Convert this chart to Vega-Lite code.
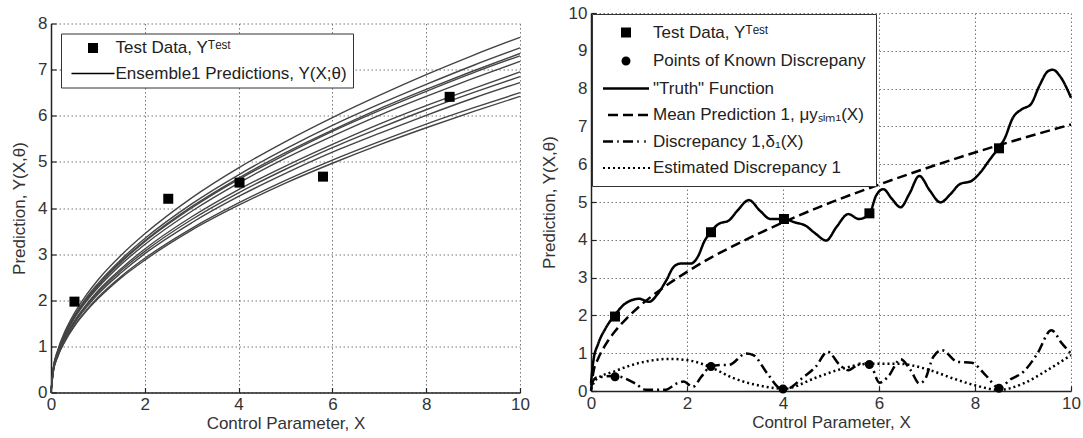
{
  "$schema": "https://vega.github.io/schema/vega-lite/v6.json",
  "padding": {"left": 10, "top": 4, "right": 0, "bottom": 0},
  "spacing": 10,
  "background": "white",
  "config": {
    "font": "Liberation Sans",
    "view": {"stroke": null},
    "axis": {
      "labelFont": "Liberation Sans", "labelFontSize": 17, "labelColor": "#333",
      "titleFont": "Liberation Sans", "titleFontSize": 17, "titleColor": "#333", "titleFontWeight": "normal",
      "domainColor": "#222", "domainWidth": 1.5, "tickColor": "#222", "tickSize": -5, "tickWidth": 1.2,
      "labelPadding": 9, "labelFlush": false, "labelOverlap": false,
      "grid": true, "gridColor": "#777", "gridDash": [1.5, 2.5], "gridWidth": 1
    },
    "legend": {
      "labelFont": "Liberation Sans", "labelFontSize": 17, "labelColor": "#222", "labelLimit": 500,
      "fillColor": "white", "strokeColor": "#333", "orient": "top-left", "title": null,
      "symbolSize": 100
    }
  },
  "resolve": {"scale": {"shape": "independent", "strokeDash": "independent", "x": "independent", "y": "independent"}, "legend": {"shape": "independent", "strokeDash": "independent"}},
  "hconcat": [
    {
      "spacing": 0.5,
      "resolve": {"scale": {"shape": "independent", "x": "independent", "y": "independent"}, "legend": {"shape": "independent"}},
      "vconcat": [
        {
          "width": 469, "height": 1,
          "data": {"values": []},
          "mark": {"type": "rule", "opacity": 0},
          "encoding": {}
        },
        {
          "width": 469, "height": 369,
          "encoding": {
            "x": {"field": "x", "type": "quantitative", "scale": {"domain": [0, 10], "nice": false}, "axis": {"values": [0,2,4,6,8,10], "title": "Control Parameter, X", "titlePadding": 3}},
            "y": {"field": "y", "type": "quantitative", "scale": {"domain": [0, 8], "nice": false}, "axis": {"values": [0,1,2,3,4,5,6,7,8], "title": "Prediction, Y(X,θ)", "titlePadding": 9}}
          },
          "layer": [
            {
              "data": {"values": [
                {"m":1,"x":0,"y":0},{"m":1,"x":0.05,"y":0.54},{"m":1,"x":0.15,"y":0.94},{"m":1,"x":0.3,"y":1.33},{"m":1,"x":0.5,"y":1.72},{"m":1,"x":0.75,"y":2.11},{"m":1,"x":1,"y":2.44},{"m":1,"x":1.5,"y":2.98},{"m":1,"x":2,"y":3.44},{"m":1,"x":3,"y":4.22},{"m":1,"x":4,"y":4.87},{"m":1,"x":5,"y":5.44},{"m":1,"x":6,"y":5.96},{"m":1,"x":7,"y":6.44},{"m":1,"x":8,"y":6.89},{"m":1,"x":9,"y":7.31},{"m":1,"x":10,"y":7.7},
                {"m":2,"x":0,"y":0},{"m":2,"x":0.05,"y":0.53},{"m":2,"x":0.15,"y":0.91},{"m":2,"x":0.3,"y":1.29},{"m":2,"x":0.5,"y":1.67},{"m":2,"x":0.75,"y":2.05},{"m":2,"x":1,"y":2.36},{"m":2,"x":1.5,"y":2.89},{"m":2,"x":2,"y":3.34},{"m":2,"x":3,"y":4.09},{"m":2,"x":4,"y":4.72},{"m":2,"x":5,"y":5.28},{"m":2,"x":6,"y":5.79},{"m":2,"x":7,"y":6.25},{"m":2,"x":8,"y":6.68},{"m":2,"x":9,"y":7.09},{"m":2,"x":10,"y":7.47},
                {"m":3,"x":0,"y":0},{"m":3,"x":0.05,"y":0.52},{"m":3,"x":0.15,"y":0.9},{"m":3,"x":0.3,"y":1.27},{"m":3,"x":0.5,"y":1.64},{"m":3,"x":0.75,"y":2.01},{"m":3,"x":1,"y":2.32},{"m":3,"x":1.5,"y":2.85},{"m":3,"x":2,"y":3.29},{"m":3,"x":3,"y":4.03},{"m":3,"x":4,"y":4.65},{"m":3,"x":5,"y":5.2},{"m":3,"x":6,"y":5.69},{"m":3,"x":7,"y":6.15},{"m":3,"x":8,"y":6.57},{"m":3,"x":9,"y":6.97},{"m":3,"x":10,"y":7.35},
                {"m":4,"x":0,"y":0},{"m":4,"x":0.05,"y":0.52},{"m":4,"x":0.15,"y":0.89},{"m":4,"x":0.3,"y":1.26},{"m":4,"x":0.5,"y":1.63},{"m":4,"x":0.75,"y":2.0},{"m":4,"x":1,"y":2.31},{"m":4,"x":1.5,"y":2.83},{"m":4,"x":2,"y":3.27},{"m":4,"x":3,"y":4.0},{"m":4,"x":4,"y":4.62},{"m":4,"x":5,"y":5.16},{"m":4,"x":6,"y":5.66},{"m":4,"x":7,"y":6.11},{"m":4,"x":8,"y":6.53},{"m":4,"x":9,"y":6.93},{"m":4,"x":10,"y":7.3},
                {"m":5,"x":0,"y":0},{"m":5,"x":0.05,"y":0.51},{"m":5,"x":0.15,"y":0.88},{"m":5,"x":0.3,"y":1.24},{"m":5,"x":0.5,"y":1.61},{"m":5,"x":0.75,"y":1.97},{"m":5,"x":1,"y":2.27},{"m":5,"x":1.5,"y":2.78},{"m":5,"x":2,"y":3.21},{"m":5,"x":3,"y":3.93},{"m":5,"x":4,"y":4.54},{"m":5,"x":5,"y":5.08},{"m":5,"x":6,"y":5.56},{"m":5,"x":7,"y":6.01},{"m":5,"x":8,"y":6.42},{"m":5,"x":9,"y":6.81},{"m":5,"x":10,"y":7.18},
                {"m":6,"x":0,"y":0},{"m":6,"x":0.05,"y":0.49},{"m":6,"x":0.15,"y":0.85},{"m":6,"x":0.3,"y":1.2},{"m":6,"x":0.5,"y":1.55},{"m":6,"x":0.75,"y":1.9},{"m":6,"x":1,"y":2.2},{"m":6,"x":1.5,"y":2.69},{"m":6,"x":2,"y":3.11},{"m":6,"x":3,"y":3.81},{"m":6,"x":4,"y":4.4},{"m":6,"x":5,"y":4.91},{"m":6,"x":6,"y":5.38},{"m":6,"x":7,"y":5.82},{"m":6,"x":8,"y":6.22},{"m":6,"x":9,"y":6.59},{"m":6,"x":10,"y":6.95},
                {"m":7,"x":0,"y":0},{"m":7,"x":0.05,"y":0.48},{"m":7,"x":0.15,"y":0.84},{"m":7,"x":0.3,"y":1.19},{"m":7,"x":0.5,"y":1.53},{"m":7,"x":0.75,"y":1.88},{"m":7,"x":1,"y":2.17},{"m":7,"x":1.5,"y":2.65},{"m":7,"x":2,"y":3.06},{"m":7,"x":3,"y":3.75},{"m":7,"x":4,"y":4.33},{"m":7,"x":5,"y":4.84},{"m":7,"x":6,"y":5.31},{"m":7,"x":7,"y":5.73},{"m":7,"x":8,"y":6.13},{"m":7,"x":9,"y":6.5},{"m":7,"x":10,"y":6.85},
                {"m":8,"x":0,"y":0},{"m":8,"x":0.05,"y":0.48},{"m":8,"x":0.15,"y":0.82},{"m":8,"x":0.3,"y":1.16},{"m":8,"x":0.5,"y":1.5},{"m":8,"x":0.75,"y":1.84},{"m":8,"x":1,"y":2.13},{"m":8,"x":1.5,"y":2.6},{"m":8,"x":2,"y":3.01},{"m":8,"x":3,"y":3.68},{"m":8,"x":4,"y":4.25},{"m":8,"x":5,"y":4.75},{"m":8,"x":6,"y":5.21},{"m":8,"x":7,"y":5.62},{"m":8,"x":8,"y":6.01},{"m":8,"x":9,"y":6.38},{"m":8,"x":10,"y":6.72},
                {"m":9,"x":0,"y":0},{"m":9,"x":0.05,"y":0.46},{"m":9,"x":0.15,"y":0.8},{"m":9,"x":0.3,"y":1.13},{"m":9,"x":0.5,"y":1.45},{"m":9,"x":0.75,"y":1.78},{"m":9,"x":1,"y":2.06},{"m":9,"x":1.5,"y":2.52},{"m":9,"x":2,"y":2.91},{"m":9,"x":3,"y":3.56},{"m":9,"x":4,"y":4.11},{"m":9,"x":5,"y":4.6},{"m":9,"x":6,"y":5.04},{"m":9,"x":7,"y":5.44},{"m":9,"x":8,"y":5.82},{"m":9,"x":9,"y":6.17},{"m":9,"x":10,"y":6.5},
                {"m":10,"x":0,"y":0},{"m":10,"x":0.05,"y":0.45},{"m":10,"x":0.15,"y":0.79},{"m":10,"x":0.3,"y":1.11},{"m":10,"x":0.5,"y":1.44},{"m":10,"x":0.75,"y":1.76},{"m":10,"x":1,"y":2.03},{"m":10,"x":1.5,"y":2.49},{"m":10,"x":2,"y":2.87},{"m":10,"x":3,"y":3.52},{"m":10,"x":4,"y":4.06},{"m":10,"x":5,"y":4.54},{"m":10,"x":6,"y":4.97},{"m":10,"x":7,"y":5.37},{"m":10,"x":8,"y":5.74},{"m":10,"x":9,"y":6.09},{"m":10,"x":10,"y":6.42}
              ]},
              "mark": {"type": "line", "interpolate": "monotone", "color": "#444", "strokeWidth": 1.4},
              "encoding": {"detail": {"field": "m"}}
            },
            {
              "data": {"values": [
                {"series":"test","x":0.5,"y":1.97},{"series":"test","x":2.5,"y":4.2},{"series":"test","x":4.02,"y":4.55},{"series":"test","x":5.8,"y":4.68},{"series":"test","x":8.5,"y":6.41}
              ]},
              "mark": {"type": "point", "filled": true, "color": "black", "size": 100, "opacity": 1},
              "encoding": {
                "shape": {
                  "field": "series", "type": "nominal",
                  "scale": {"domain": ["test", "ens"], "range": ["M-1,-1H1V1H-1Z", "M-4.3,-0.13H4.3V0.13H-4.3Z"]},
                  "legend": {
                    "offset": 10, "padding": 6, "rowPadding": 7.5, "symbolStrokeWidth": 1.2,
                    "symbolOffset": 17.5, "labelOffset": 14,
                    "labelExpr": "datum.value == 'test' ? 'Test Data, Yᵀᵉˢᵗ' : 'Ensemble1 Predictions, Y(X;θ)'"
                  }
                }
              }
            }
          ]
        }
      ]
    },
    {
      "width": 480, "height": 378,
      "encoding": {
        "x": {"field": "x", "type": "quantitative", "scale": {"domain": [0, 10], "nice": false}, "axis": {"values": [0,2,4,6,8,10], "title": "Control Parameter, X", "titlePadding": 3}},
        "y": {"field": "y", "type": "quantitative", "scale": {"domain": [0, 10], "nice": false}, "axis": {"values": [0,1,2,3,4,5,6,7,8,9,10], "title": "Prediction, Y(X,θ)", "titlePadding": 10}}
      },
      "layer": [
        {
          "data": {"values": [
            {"series":"truth","x":0,"y":0.2},{"series":"truth","x":0.05,"y":0.8},{"series":"truth","x":0.15,"y":1.25},{"series":"truth","x":0.3,"y":1.65},{"series":"truth","x":0.49,"y":2.0},{"series":"truth","x":0.71,"y":2.31},{"series":"truth","x":1.0,"y":2.44},{"series":"truth","x":1.21,"y":2.36},{"series":"truth","x":1.39,"y":2.57},{"series":"truth","x":1.57,"y":2.93},{"series":"truth","x":1.72,"y":3.28},{"series":"truth","x":1.86,"y":3.37},{"series":"truth","x":2.08,"y":3.37},{"series":"truth","x":2.22,"y":3.54},{"series":"truth","x":2.37,"y":3.98},{"series":"truth","x":2.49,"y":4.2},{"series":"truth","x":2.66,"y":4.42},{"series":"truth","x":2.87,"y":4.51},{"series":"truth","x":3.05,"y":4.77},{"series":"truth","x":3.29,"y":5.05},{"series":"truth","x":3.52,"y":4.77},{"series":"truth","x":3.74,"y":4.55},{"series":"truth","x":4.01,"y":4.55},{"series":"truth","x":4.25,"y":4.46},{"series":"truth","x":4.46,"y":4.38},{"series":"truth","x":4.68,"y":4.16},{"series":"truth","x":4.9,"y":3.98},{"series":"truth","x":5.11,"y":4.33},{"series":"truth","x":5.36,"y":4.68},{"series":"truth","x":5.58,"y":4.55},{"series":"truth","x":5.8,"y":4.68},{"series":"truth","x":5.94,"y":5.17},{"series":"truth","x":6.09,"y":5.34},{"series":"truth","x":6.27,"y":5.08},{"series":"truth","x":6.45,"y":4.86},{"series":"truth","x":6.63,"y":5.21},{"series":"truth","x":6.84,"y":5.69},{"series":"truth","x":7.06,"y":5.3},{"series":"truth","x":7.28,"y":4.99},{"series":"truth","x":7.49,"y":5.21},{"series":"truth","x":7.68,"y":5.47},{"series":"truth","x":7.93,"y":5.56},{"series":"truth","x":8.11,"y":5.78},{"series":"truth","x":8.29,"y":6.09},{"series":"truth","x":8.47,"y":6.4},{"series":"truth","x":8.61,"y":6.66},{"series":"truth","x":8.79,"y":7.23},{"series":"truth","x":8.97,"y":7.45},{"series":"truth","x":9.16,"y":7.58},{"series":"truth","x":9.34,"y":8.07},{"series":"truth","x":9.52,"y":8.46},{"series":"truth","x":9.62,"y":8.5},{"series":"truth","x":9.77,"y":8.33},{"series":"truth","x":10,"y":7.76},
            {"series":"mean","x":0,"y":0},{"series":"mean","x":0.05,"y":0.5},{"series":"mean","x":0.15,"y":0.86},{"series":"mean","x":0.3,"y":1.22},{"series":"mean","x":0.5,"y":1.58},{"series":"mean","x":0.75,"y":1.93},{"series":"mean","x":1,"y":2.23},{"series":"mean","x":1.5,"y":2.73},{"series":"mean","x":2,"y":3.15},{"series":"mean","x":2.5,"y":3.53},{"series":"mean","x":3,"y":3.86},{"series":"mean","x":4,"y":4.46},{"series":"mean","x":5,"y":4.99},{"series":"mean","x":6,"y":5.46},{"series":"mean","x":7,"y":5.9},{"series":"mean","x":8,"y":6.31},{"series":"mean","x":9,"y":6.69},{"series":"mean","x":10,"y":7.05},
            {"series":"disc","x":0,"y":0.15},{"series":"disc","x":0.1,"y":0.35},{"series":"disc","x":0.49,"y":0.4},{"series":"disc","x":0.92,"y":0.2},{"series":"disc","x":1.14,"y":0.03},{"series":"disc","x":1.54,"y":0.03},{"series":"disc","x":1.79,"y":0.2},{"series":"disc","x":1.93,"y":0.25},{"series":"disc","x":2.12,"y":0.11},{"series":"disc","x":2.3,"y":0.38},{"series":"disc","x":2.48,"y":0.64},{"series":"disc","x":2.69,"y":0.69},{"series":"disc","x":2.87,"y":0.69},{"series":"disc","x":3.23,"y":0.99},{"series":"disc","x":3.38,"y":0.95},{"series":"disc","x":3.67,"y":0.47},{"series":"disc","x":3.96,"y":0.07},{"series":"disc","x":4.1,"y":0.07},{"series":"disc","x":4.39,"y":0.33},{"series":"disc","x":4.68,"y":0.64},{"series":"disc","x":4.93,"y":1.04},{"series":"disc","x":5.18,"y":0.69},{"series":"disc","x":5.36,"y":0.55},{"series":"disc","x":5.62,"y":0.73},{"series":"disc","x":5.8,"y":0.73},{"series":"disc","x":6.01,"y":0.22},{"series":"disc","x":6.19,"y":0.38},{"series":"disc","x":6.45,"y":0.84},{"series":"disc","x":6.66,"y":0.55},{"series":"disc","x":6.84,"y":0.2},{"series":"disc","x":6.95,"y":0.29},{"series":"disc","x":7.13,"y":0.9},{"series":"disc","x":7.31,"y":1.08},{"series":"disc","x":7.64,"y":0.77},{"series":"disc","x":7.93,"y":0.75},{"series":"disc","x":8.22,"y":0.42},{"series":"disc","x":8.51,"y":0.07},{"series":"disc","x":8.72,"y":0.29},{"series":"disc","x":9.01,"y":0.51},{"series":"disc","x":9.3,"y":0.99},{"series":"disc","x":9.59,"y":1.61},{"series":"disc","x":9.81,"y":1.26},{"series":"disc","x":10,"y":0.99},
            {"series":"est","x":0,"y":0.05},{"series":"est","x":0.1,"y":0.3},{"series":"est","x":0.49,"y":0.52},{"series":"est","x":1.0,"y":0.74},{"series":"est","x":1.65,"y":0.85},{"series":"est","x":2.08,"y":0.8},{"series":"est","x":2.51,"y":0.62},{"series":"est","x":2.95,"y":0.35},{"series":"est","x":3.52,"y":0.14},{"series":"est","x":4.03,"y":0.06},{"series":"est","x":4.68,"y":0.35},{"series":"est","x":5.18,"y":0.57},{"series":"est","x":5.8,"y":0.72},{"series":"est","x":6.41,"y":0.72},{"series":"est","x":6.99,"y":0.58},{"series":"est","x":7.57,"y":0.32},{"series":"est","x":8.0,"y":0.15},{"series":"est","x":8.51,"y":0.03},{"series":"est","x":9.01,"y":0.2},{"series":"est","x":9.44,"y":0.5},{"series":"est","x":10,"y":0.95}
          ]},
          "mark": {"type": "line", "interpolate": "monotone", "color": "black", "strokeWidth": 2.5},
          "encoding": {
            "strokeDash": {
              "field": "series", "type": "nominal",
              "scale": {"domain": ["truth", "mean", "disc", "est"], "range": [[1,0],[10,5],[10,4,2,4],[2,3]]},
              "legend": null
            }
          }
        },
        {
          "data": {"values": [
            {"series":"known","x":0.5,"y":0.38},{"series":"known","x":2.5,"y":0.65},{"series":"known","x":4.0,"y":0.05},{"series":"known","x":5.8,"y":0.7},{"series":"known","x":8.5,"y":0.07},
            {"series":"test","x":0.5,"y":1.97},{"series":"test","x":2.5,"y":4.2},{"series":"test","x":4.02,"y":4.55},{"series":"test","x":5.8,"y":4.7},{"series":"test","x":8.5,"y":6.42}
          ]},
          "mark": {"type": "point", "filled": true, "color": "black", "size": 100, "opacity": 1},
          "encoding": {
            "shape": {
              "field": "series", "type": "nominal",
              "scale": {
                "domain": ["test", "known", "truth", "mean", "disc", "est"],
                "range": [
                  "M-1,-1H1V1H-1Z",
                  "M-0.9,0A0.9,0.9,0,1,1,0.9,0A0.9,0.9,0,1,1,-0.9,0Z",
                  "M-4.6,-0.25H4.6V0.25H-4.6Z",
                  "M-3.6,-0.25H-1.6V0.25H-3.6ZM-0.6,-0.25H1.4V0.25H-0.6ZM2.4,-0.25H4.4V0.25H2.4Z",
                  "M-4.6,-0.25H-2.6V0.25H-4.6ZM-1.75,-0.25H-1.45V0.25H-1.75ZM-0.6,-0.25H1.4V0.25H-0.6ZM2.25,-0.25H2.55V0.25H2.25ZM3.65,-0.25H3.95V0.25H3.65Z",
                  "M-4.6,-0.2H-4.2V0.2H-4.6ZM-3.6,-0.2H-3.2V0.2H-3.6ZM-2.6,-0.2H-2.2V0.2H-2.6ZM-1.6,-0.2H-1.2V0.2H-1.6ZM-0.6,-0.2H-0.2V0.2H-0.6ZM0.4,-0.2H0.8V0.2H0.4ZM1.4,-0.2H1.8V0.2H1.4ZM2.4,-0.2H2.8V0.2H2.4ZM3.4,-0.2H3.8V0.2H3.4ZM4.4,-0.2H4.8V0.2H4.4Z"
                ]
              },
              "legend": {
                "offset": 1, "padding": 10, "rowPadding": 8.5, "symbolStrokeWidth": 2.5,
                "symbolOffset": 15.5, "labelOffset": 18.5,
                "labelExpr": "datum.value == 'test' ? 'Test Data, Yᵀᵉˢᵗ' : datum.value == 'known' ? 'Points of Known Discrepany' : datum.value == 'truth' ? '\"Truth\" Function' : datum.value == 'mean' ? 'Mean Prediction 1, μyₛᵢₘ₁(X)' : datum.value == 'disc' ? 'Discrepancy 1,δ₁(X)' : 'Estimated Discrepancy 1'"
              }
            }
          }
        }
      ]
    }
  ]
}
